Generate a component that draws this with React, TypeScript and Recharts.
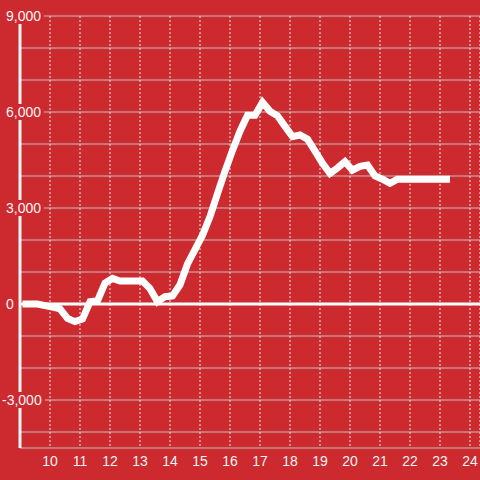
import { LineChart, Line, XAxis, YAxis, CartesianGrid, ReferenceLine } from 'recharts';

const times = [
  '9:05', '9:20', '9:35', '9:50', '10:05', '10:20', '10:35', '10:50', '11:05', '11:20',
  '11:35', '11:50', '12:05', '12:20', '12:35', '12:50', '13:05', '13:20', '13:35', '13:50',
  '14:05', '14:20', '14:35', '14:50', '15:05', '15:20', '15:35', '15:50', '16:05', '16:20',
  '16:35', '16:50', '17:05', '17:20', '17:35', '17:50', '18:05', '18:20', '18:35', '18:50',
  '19:05', '19:20', '19:35', '19:50', '20:05', '20:20', '20:35', '20:50', '21:05', '21:20',
  '21:35', '21:50', '22:05', '22:20', '22:35', '22:50', '23:05', '23:20',
];

const values = [
  0, 0, 0, -50, -100, -150, -450, -550, -470, 70,
  100, 650, 800, 720, 720, 720, 720, 480, 70, 230,
  250, 600, 1250, 1700, 2150, 2730, 3450, 4150, 4800, 5400,
  5900, 5900, 6300, 6020, 5880, 5550, 5230, 5280, 5150, 4780,
  4400, 4080, 4250, 4450, 4180, 4300, 4340, 4000, 3900, 3770,
  3900, 3900, 3900, 3900, 3900, 3900, 3900, 3900,
];

const hourTicks = [10, 11, 12, 13, 14, 15, 16, 17, 18, 19, 20, 21, 22, 23, 24];
const valueTicks = [-4000, -3000, -2000, -1000, 0, 1000, 2000, 3000, 4000, 5000, 6000, 7000, 8000, 9000];

const toHour = (t: string) => {
  const [h, m] = t.split(':').map(Number);
  return h + m / 60;
};

const data = times.map((t, i) => ({ hour: toHour(t), value: values[i] }));

const BG = '#cc2a2f';
const FONT = '"Liberation Sans", Arial, sans-serif';

const fmt = (v: number) => v.toLocaleString('en-US');

const YTick = ({ x, y, payload }: any) => {
  const v = payload.value;
  if (v % 3000 !== 0) return null;
  const label = fmt(v);
  let w = 0;
  for (const c of label) w += c === ',' ? 4 : c === '-' ? 5 : 8;
  const left = x - 14 - (v < 0 ? 4 : 0);
  return (
    <g>
      <rect x={left - 2} y={y - 8} width={w + 4} height={16} fill={BG} />
      <text x={left} y={y} dy={5} fill="#f4f4f4" fontSize={14} fontFamily={FONT} textAnchor="start">
        {label}
      </text>
    </g>
  );
};

export default function App() {
  return (
    <div style={{ position: 'fixed', top: 0, left: 0, width: 480, height: 480, background: BG }}>
      <LineChart width={480} height={480} data={data} margin={{ top: 16, right: 0, bottom: 0, left: 0 }}>
        <CartesianGrid horizontal={true} vertical={false} stroke="#c4c4c4" strokeWidth={1} />
        <CartesianGrid horizontal={false} vertical={true} stroke="#e6e6e6" strokeDasharray="2 2" strokeWidth={1} />
        <XAxis
          dataKey="hour"
          type="number"
          domain={[9, 24 + 1 / 3]}
          ticks={hourTicks}
          height={32}
          axisLine={false}
          tickLine={false}
          tickSize={0}
          tickMargin={8}
          tick={{ fill: '#f4f4f4', fontSize: 14, fontFamily: FONT }}
          allowDataOverflow
        />
        <YAxis
          type="number"
          domain={[-4500, 9000]}
          ticks={valueTicks}
          width={20}
          axisLine={{ stroke: '#f4f4f4', strokeWidth: 3 }}
          tickLine={false}
          tickSize={0}
          tickMargin={0}
          tick={<YTick />}
          interval={0}
          allowDataOverflow
        />
        <ReferenceLine y={0} stroke="#ffffff" strokeWidth={3} />
        <Line
          type="linear"
          dataKey="value"
          stroke="#ffffff"
          strokeWidth={7}
          dot={false}
          activeDot={false}
          isAnimationActive={false}
        />
      </LineChart>
    </div>
  );
}
